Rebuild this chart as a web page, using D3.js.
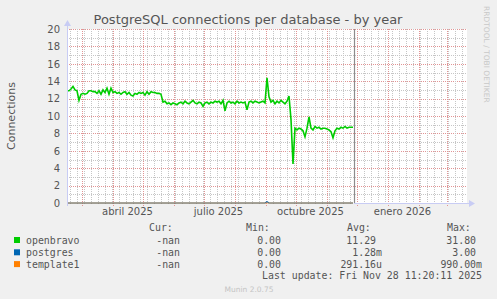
<!DOCTYPE html>
<html><head><meta charset="utf-8">
<script src="https://cdn.jsdelivr.net/npm/d3@7"></script>
<style>body{margin:0;background:#f0f0f0}svg{display:block}</style>
</head><body>
<script>
// ---- data ----
const seriesNames = ["openbravo", "postgres", "template1"];
const seriesColors = ["#00cc00", "#0066b3", "#ff8000"];
const dataStart = "2025-02-14";  // first sample, one sample every 2 days
const stepDays = 2;
const openbravo = [
  12.9,12.9,13.1,13.4,13.0,12.9,11.8,12.5,12.6,12.5,12.6,12.9,12.9,12.8,12.8,12.6,
  12.9,12.5,13.0,12.7,13.2,12.5,13.2,12.7,12.8,12.6,12.7,12.5,12.7,12.8,12.5,12.7,
  12.4,12.3,12.6,12.5,12.7,12.6,12.7,12.4,12.8,12.5,12.8,12.7,12.7,12.6,12.6,12.5,
  11.6,11.7,11.4,11.5,11.3,11.5,11.4,11.3,11.5,11.6,11.4,11.7,11.5,11.4,11.6,11.8,
  11.5,11.4,11.6,11.5,11.1,11.5,11.6,11.4,11.6,11.5,11.7,11.6,11.7,11.4,11.8,10.6,
  11.5,11.7,11.5,11.6,11.4,11.7,11.5,11.6,11.5,11.6,10.7,11.6,11.7,11.5,11.7,11.6,
  11.5,11.6,11.7,11.5,14.4,12.2,11.6,11.8,11.4,11.7,11.5,11.8,11.6,11.4,11.7,12.3,
  9.6,4.5,8.6,8.4,8.6,8.5,8.3,7.6,8.6,9.9,8.6,8.4,8.8,8.6,8.7,8.5,
  8.6,8.6,8.5,8.4,8.2,7.5,8.3,8.6,8.5,8.7,8.6,8.8,8.6,8.7,8.7,8.7
];
const postgresBlip = {index: 100, value: 0.15};
const yTicks = [0,2,4,6,8,10,12,14,16,18,20];
const xLabelDates = ["2025-04-15","2025-07-15","2025-10-15","2026-01-15"];
const xLabels = ["abril 2025","julio 2025","octubre 2025","enero 2026"];
const rangeStart = "2025-02-14", rangeEnd = "2026-03-21", nowDate = "2025-11-28";
const legendRows = [
  ["openbravo","-nan","0.00","11.29 ","31.80 "],
  ["postgres","-nan","0.00","1.28m","3.00 "],
  ["template1","-nan","0.00","291.16u","990.00m"]
];
const titleText = "PostgreSQL connections per database - by year";
const lastUpdate = "Last update: Fri Nov 28 11:20:11 2025";

// ---- drawing ----
const W = 497, H = 299;
const L = 67, R = 467, T = 29, B = 203;
const parse = d3.timeParse("%Y-%m-%d");
const svg = d3.select("body").append("svg").attr("width", W).attr("height", H);
svg.append("rect").attr("width", W).attr("height", H).attr("fill", "#f0f0f0");

const x = d3.scaleTime().domain([parse(rangeStart), parse(rangeEnd)]).range([L, R]);
const y = d3.scaleLinear().domain([0, 20]).range([B, T]);

svg.append("rect").attr("x", L).attr("y", T).attr("width", R - L).attr("height", B - T).attr("fill", "#fff");

const g = svg.append("g");
const minorC = "#c6c6c6", majorC = "#e29494";
// horizontal grid
d3.range(1, 21).forEach(v => {
  g.append("line").attr("x1", L).attr("x2", R).attr("y1", Math.round(y(v)) + 0.5).attr("y2", Math.round(y(v)) + 0.5)
   .attr("stroke", v % 2 ? minorC : majorC).attr("stroke-dasharray", "1,1");
});
// vertical grid
const weeks = d3.timeMonday.range(x.domain()[0], x.domain()[1]);
weeks.forEach(d => {
  const xx = Math.round(x(d)) + 0.5;
  g.append("line").attr("x1", xx).attr("x2", xx).attr("y1", T).attr("y2", B + 2).attr("stroke", minorC).attr("stroke-dasharray", "1,1");
});
const months = d3.timeMonth.range(x.domain()[0], x.domain()[1]);
months.forEach(d => {
  const xx = Math.round(x(d)) + 0.5;
  g.append("line").attr("x1", xx).attr("x2", xx).attr("y1", T).attr("y2", B + 3).attr("stroke", majorC).attr("stroke-dasharray", "1,1");
});

// series
const dates = openbravo.map((v, i) => d3.timeDay.offset(parse(dataStart), i * stepDays));
const postgres = openbravo.map((v, i) => i === postgresBlip.index ? postgresBlip.value : 0);
const template1 = openbravo.map(() => 0);
const line = d3.line().x((d, i) => x(dates[i])).y(d => y(d));
[openbravo, postgres, template1].forEach((s, k) => {
  svg.append("path").datum(s).attr("d", line).attr("fill", "none")
    .attr("stroke", seriesColors[k]).attr("stroke-width", k === 0 ? 1.6 : 1.2)
    .attr("stroke-opacity", k === 2 ? 0.6 : 1);
});

// now line
svg.append("line").attr("x1", Math.round(x(parse(nowDate))) + 0.5).attr("x2", Math.round(x(parse(nowDate))) + 0.5)
  .attr("y1", T).attr("y2", B).attr("stroke", "#8c8c8c").attr("stroke-width", 1.2);

// axes
const axC = "#c8ccf4";
svg.append("line").attr("x1", L + 0.5).attr("x2", L + 0.5).attr("y1", B + 3).attr("y2", T - 4).attr("stroke", axC);
svg.append("path").attr("d", `M${L - 3},${T - 3} L${L + 4},${T - 3} L${L + 0.5},${T - 9} Z`).attr("fill", axC);
svg.append("line").attr("x1", x(parse(nowDate))).attr("x2", R + 4).attr("y1", B + 0.5).attr("y2", B + 0.5).attr("stroke", axC);
svg.append("path").attr("d", `M${R + 2},${B - 3} L${R + 2},${B + 4} L${R + 8},${B + 0.5} Z`).attr("fill", axC);

// y tick labels
const yAxis = d3.axisLeft(y).tickValues(yTicks).tickSize(0).tickPadding(7);
const ya = svg.append("g").attr("transform", `translate(${L},0)`).call(yAxis);
ya.select(".domain").remove();
ya.selectAll("text").attr("font-family", "DejaVu Sans").attr("font-size", 10).attr("fill", "#555");

// x labels
const xAxis = d3.axisBottom(x).tickValues(xLabelDates.map(parse)).tickFormat((d, i) => xLabels[i]).tickSize(0).tickPadding(5);
const xa = svg.append("g").attr("transform", `translate(0,${B})`).call(xAxis);
xa.select(".domain").remove();
xa.selectAll("text").attr("font-family", "DejaVu Sans").attr("font-size", 10).attr("fill", "#555");

// title
svg.append("text").attr("x", 248).attr("y", 24).attr("text-anchor", "middle")
  .attr("font-family", "DejaVu Sans").attr("font-size", 13).attr("fill", "#555").text(titleText);
// y label
svg.append("text").attr("transform", "translate(15,116) rotate(-90)").attr("text-anchor", "middle")
  .attr("font-family", "DejaVu Sans").attr("font-size", 11).attr("fill", "#555").text("Connections");
// watermark
svg.append("text").attr("transform", "translate(484,6) rotate(90)").attr("text-anchor", "start")
  .attr("font-family", "DejaVu Sans").attr("font-size", 7.5).attr("fill", "#c8c8c8").text("RRDTOOL / TOBI OETIKER");

// legend
const mono = "DejaVu Sans Mono", lf = 9.9, lc = "#555";
const colX = [180, 281, 382, 482];
const heads = ["Cur:", "Min:", "Avg:", "Max:"];
const headX = [149, 246, 347, 447];
heads.forEach((h, i) => svg.append("text").attr("x", headX[i]).attr("y", 230.5)
  .attr("font-family", mono).attr("font-size", lf).attr("fill", lc).text(h));
const rowY = [243.5, 255.8, 267.6];
legendRows.forEach((r, k) => {
  svg.append("rect").attr("x", 14).attr("y", rowY[k] - 6.5).attr("width", 6).attr("height", 6).attr("fill", seriesColors[k]);
  svg.append("text").attr("x", 26).attr("y", rowY[k]).attr("font-family", mono).attr("font-size", lf).attr("fill", lc)
    .text(r[0]);
  for (let c = 1; c < 5; c++) {
    svg.append("text").attr("x", colX[c - 1]).attr("y", rowY[k]).attr("text-anchor", "end")
      .attr("font-family", mono).attr("font-size", lf).attr("fill", lc).style("white-space", "pre").text(r[c]);
  }
});
svg.append("text").attr("x", 482).attr("y", 279).attr("text-anchor", "end")
  .attr("font-family", mono).attr("font-size", lf).attr("fill", lc).text(lastUpdate);
svg.append("text").attr("x", 249).attr("y", 292).attr("text-anchor", "middle")
  .attr("font-family", "DejaVu Sans").attr("font-size", 7.5).attr("fill", "#c4c4c4").text("Munin 2.0.75");
</script>
</body></html>
